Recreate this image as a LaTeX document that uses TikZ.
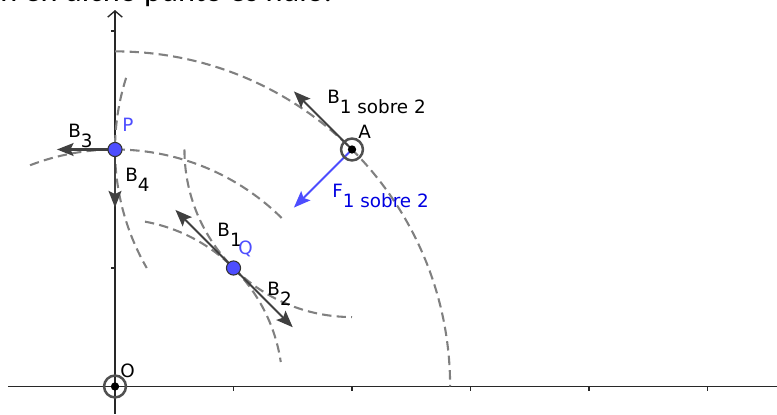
\documentclass[tikz,border=0pt]{standalone}
\usepackage{fontspec}
\setmainfont{DejaVu Sans}
\newfontfamily\pagefont{Carlito}
\usetikzlibrary{arrows.meta,positioning}
\definecolor{ggblue}{RGB}{77,77,255}
\definecolor{ggbluetext}{RGB}{0,0,225}
\definecolor{ggvec}{RGB}{64,64,64}
\definecolor{ggring}{RGB}{80,80,80}
\definecolor{ggdash}{RGB}{128,128,128}
\definecolor{ggaxis}{RGB}{40,40,40}
% label with a lowered index of the same size
\newcommand{\vlabel}[2]{#1\raisebox{-4.8pt}{#2}}

\begin{document}
\begin{tikzpicture}[x=2cm,y=2cm,font=\fontsize{8.8}{10}\selectfont,
    axisline/.style={ggaxis,line width=0.65pt},
    fieldline/.style={ggdash,line width=1pt,dash pattern=on 4.5pt off 2.5pt},
    vec/.style={ggvec,line width=1pt,-{Stealth[length=8pt,width=6.2pt,inset=1.5pt]}},
    wirering/.style={circle,draw=ggring,line width=1.2pt,minimum size=10.5pt,inner sep=0pt},
    charge/.style={circle,fill=ggblue,draw=black!80,line width=0.5pt,minimum size=6.8pt,inner sep=0pt},
    lbl/.style={anchor=base west,inner sep=0pt}]
    \useasboundingbox (-0.9705,-0.2321) rectangle (5.5865,3.2616);
    \node[lbl,font=\fontsize{15.5}{18}\pagefont] (texto) at (-0.9705,3.253) {n en dicho punto es nulo.};

    % axes
    \draw[axisline] (-0.903,0) -- (5.5865,0);
    \draw[axisline,-{Straight Barb[length=3pt,width=7pt]}] (0,-0.2321) -- (0,3.177);
    \foreach \x in {1,...,5}{
        \draw[axisline] (\x,0) -- (\x,-0.035);
    }
    \foreach \y in {1,3}{
        \draw[axisline] (0,\y) -- (-0.035,\y);
    }

    \coordinate (O) at (0,0);
    \coordinate (P) at (0,2);
    \coordinate (Q) at (1,1);
    \coordinate (A) at (2,2);

    % field lines round O and round A
    \draw[fieldline] (90:2.828) arc[start angle=90,end angle=0,radius=2.828];
    \draw[fieldline] (111:2) arc[start angle=111,end angle=44.7,radius=2];
    \draw[fieldline] (79.7:1.414) arc[start angle=79.7,end angle=8.4,radius=1.414];
    \draw[fieldline] ([shift={(162.4:2)}]A) arc[start angle=162.4,end angle=210,radius=2];
    \draw[fieldline] ([shift={(180:1.414)}]A) arc[start angle=180,end angle=270,radius=1.414];

    % vector tips
    \path (A) ++(-0.49,0.49) coordinate (b12);
    \path (A) ++(-0.49,-0.49) coordinate (f12);
    \path (P) ++(-0.49,0) coordinate (b3);
    \path (P) ++(0,-0.49) coordinate (b4);
    \path (Q) ++(-0.49,0.49) coordinate (b1);
    \path (Q) ++(0.5,-0.5) coordinate (b2);

    \draw[vec] (A) -- (b12);
    \draw[vec,ggblue] (A) -- (f12);
    \draw[vec] (P) -- (b3);
    \draw[vec] (P) -- (b4);
    \draw[vec] (Q) -- (b1);
    \draw[vec] (Q) -- (b2);

    % wires and points
    \node[wirering] (ringO) at (O) {};
    \fill[black] (O) circle (2pt);
    \node[wirering] (ringA) at (A) {};
    \fill[black] (A) circle (2pt);
    \node[charge] (dotP) at (P) {};
    \node[charge] (dotQ) at (Q) {};

    % labels
    \node[lbl] (lB3) at (-0.397,2.105) {\vlabel{B}{3}};
    \node[lbl,text=ggblue] (lP) at (0.059,2.148) {P};
    \node[lbl] (lB4) at (0.084,1.726) {\vlabel{B}{4}};
    \node[lbl] (lA) at (2.05,2.097) {A};
    \node[lbl] (lB12) at (1.789,2.392) {\vlabel{B}{1 sobre 2}};
    \node[lbl,text=ggbluetext] (lF12) at (1.831,1.599) {\vlabel{F}{1 sobre 2}};
    \node[lbl] (lB1) at (0.861,1.262) {\vlabel{B}{1}};
    \node[lbl,text=ggblue] (lQ) at (1.038,1.11) {Q};
    \node[lbl] (lB2) at (1.283,0.772) {\vlabel{B}{2}};
    \node[lbl] (lO) at (0.042,0.080) {O};
\end{tikzpicture}
\end{document}
